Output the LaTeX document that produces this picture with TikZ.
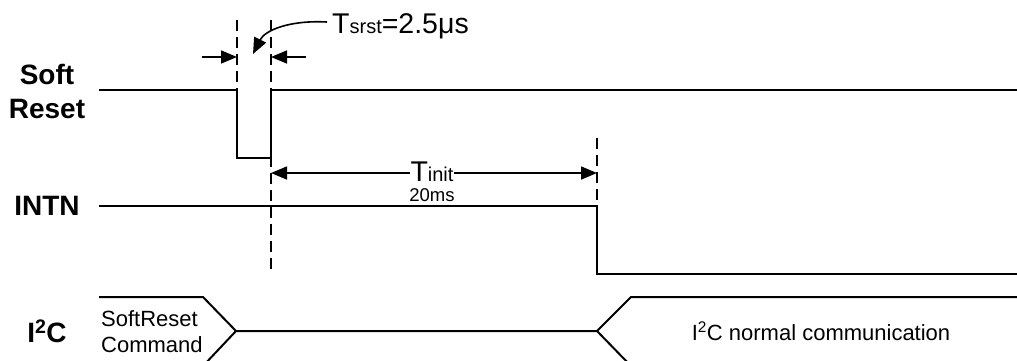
\documentclass[tikz,border=0pt]{standalone}
\usepackage{fontspec}
\setmainfont{Liberation Sans}
\usetikzlibrary{arrows.meta}
\begin{document}
\begin{tikzpicture}[x=1pt,y=-1pt,
  sig/.style={line width=2pt},
  guide/.style={line width=1.6pt,dash pattern=on 11pt off 6pt},
  dim/.style={line width=1.6pt,-{Triangle[length=16pt,width=13pt]}},
  signame/.style={font=\fontsize{28}{34}\selectfont\bfseries,align=center},
  bigtext/.style={font=\fontsize{28.5}{30}\selectfont,inner sep=0pt},
  smalltext/.style={font=\fontsize{22}{26}\selectfont,inner sep=0pt,align=left}]
\useasboundingbox (0,0) rectangle (1017,360);
\node[signame] (n_sr) at (47,91) {Soft\\Reset};
\node[signame] (n_intn) at (47,206) {INTN};
\node[signame] (n_i2c) at (47,331) {I\textsuperscript{2}C};
\coordinate (sr_a) at (99,90);
\coordinate (sr_b) at (237,90);
\coordinate (sr_c) at (237,158);
\coordinate (sr_d) at (271,158);
\coordinate (sr_e) at (271,90);
\coordinate (sr_f) at (1017,90);
\draw[sig] (sr_a) -- (sr_b) -- (sr_c) -- (sr_d) -- (sr_e) -- (sr_f);
\coordinate (in_a) at (99,206);
\coordinate (in_b) at (597,206);
\coordinate (in_c) at (597,274);
\coordinate (in_d) at (1017,274);
\draw[sig] (in_a) -- (in_b) -- (in_c) -- (in_d);
\coordinate (bus_a) at (99,297);
\coordinate (bus_b) at (203,297);
\coordinate (bus_c) at (236,331);
\coordinate (bus_d) at (597,331);
\coordinate (bus_e) at (631,297);
\coordinate (bus_f) at (1017,297);
\coordinate (bus_g) at (99,366);
\coordinate (bus_h) at (203,366);
\coordinate (bus_i) at (631,366);
\coordinate (bus_j) at (1017,366);
\draw[sig] (bus_a) -- (bus_b) -- (bus_c) -- (bus_d) -- (bus_e) -- (bus_f);
\draw[sig] (bus_g) -- (bus_h) -- (bus_c);
\draw[sig] (bus_d) -- (bus_i) -- (bus_j);
\node[smalltext,anchor=west] (n_cmd) at (101,332) {SoftReset\\Command};
\node[smalltext] (n_comm) at (821,331) {I\textsuperscript{2}C normal communication};
% timing guides
\coordinate (g_1) at (237,20);
\coordinate (g_2) at (271,20);
\coordinate (g_3) at (271,272);
\coordinate (g_4) at (597,138);
\draw[guide] (g_1) -- (sr_b);
\draw[guide] (g_2) -- (g_3);
\draw[guide] (g_4) -- (in_b);
\coordinate (t_l) at (202,57);
\coordinate (t_a) at (237,57);
\coordinate (t_b) at (271,57);
\coordinate (t_r) at (306,57);
\draw[dim] (t_l) -- (t_a);
\draw[dim] (t_r) -- (t_b);
\node[bigtext,anchor=base west] (n_tsrst) at (332,33) {T{\fontsize{20}{22}\selectfont srst}=2.5μs};
\coordinate (t_tip) at (253,54);
\coordinate (t_from) at (327,22);
\draw[dim] (t_from) .. controls (290,20) and (265,30) .. (t_tip);
\coordinate (ti_a) at (271,173);
\coordinate (ti_b) at (597,173);
\draw[dim,{Triangle[length=16pt,width=13pt]}-{Triangle[length=16pt,width=13pt]}] (ti_a) -- (ti_b);
\node[bigtext,anchor=base,fill=white,inner xsep=1pt,text depth=0pt] (n_tinit) at (432,181) {T{\fontsize{20}{22}\selectfont init}};
\node[smalltext,font=\fontsize{18.5}{22}\selectfont,anchor=base,text height=12pt] (n_20ms) at (432,201) {20ms};
\end{tikzpicture}
\end{document}
